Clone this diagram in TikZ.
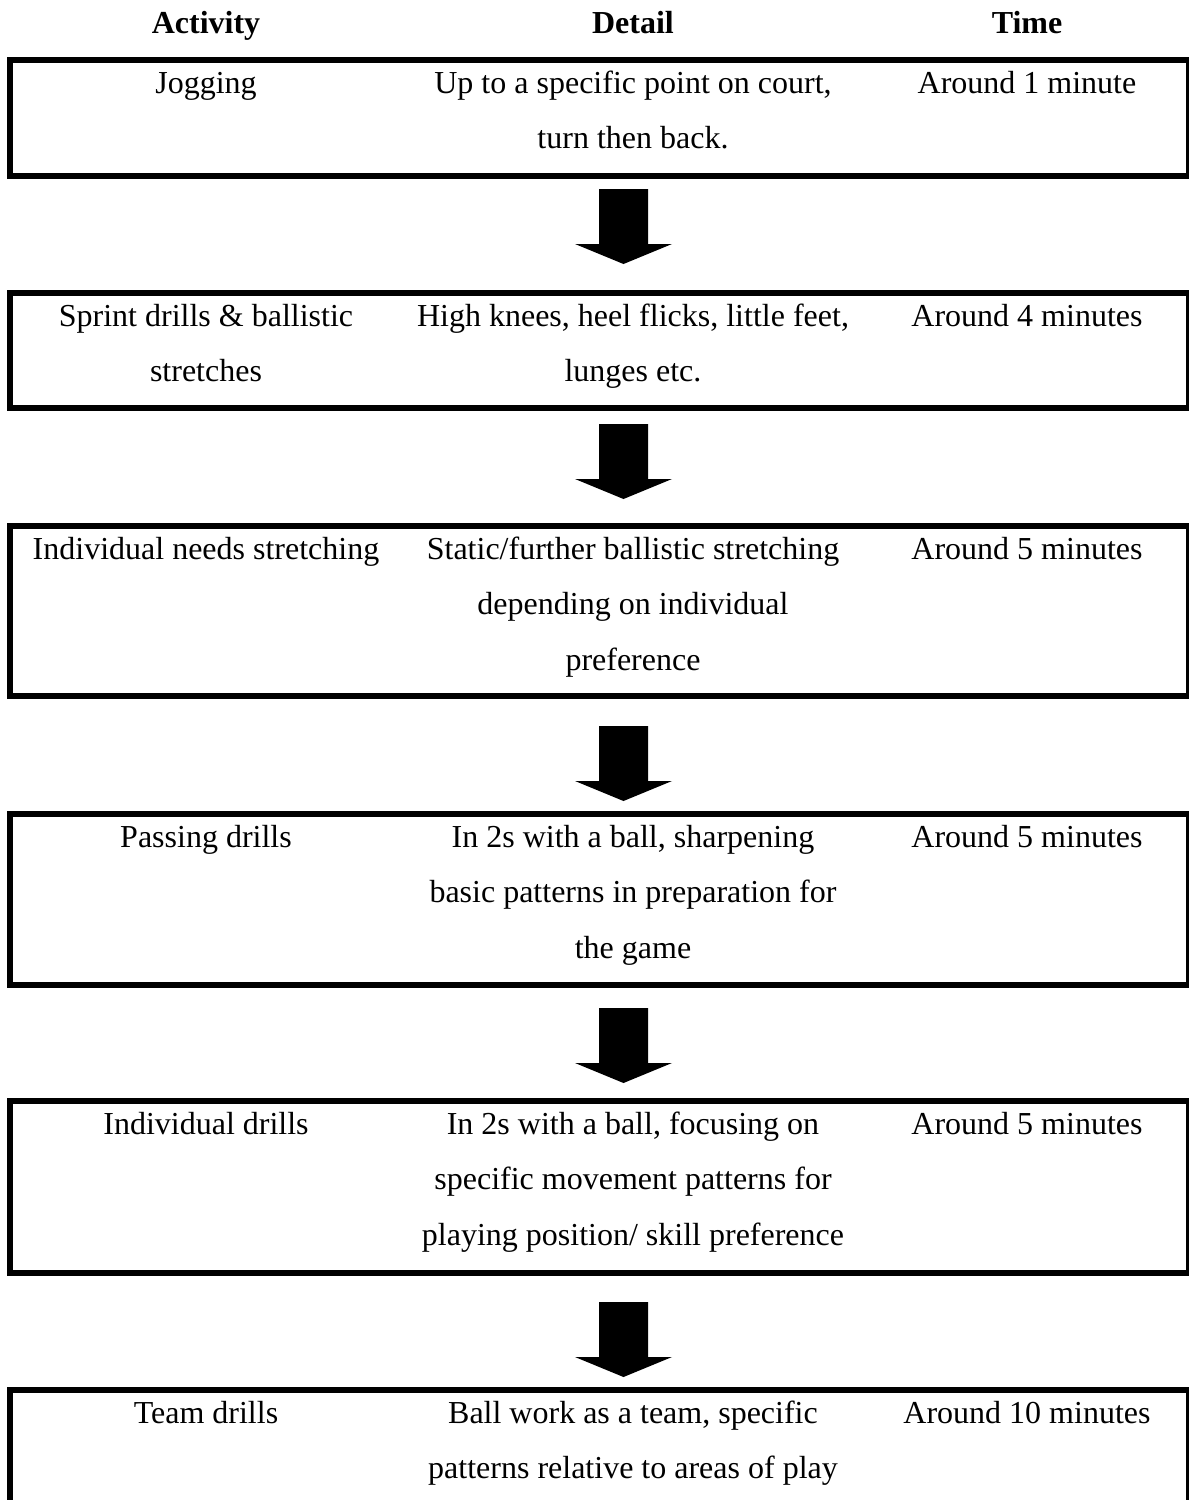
\documentclass[tikz,border=0pt]{standalone}
\usepackage{fontspec}
\setmainfont{Liberation Serif}
\begin{document}
\begin{tikzpicture}[x=1pt,y=-1pt]
\tikzset{
  txt/.style={anchor=base, align=center, inner sep=0pt, font=\fontsize{32}{55.5}\selectfont},
  hdr/.style={anchor=base, inner sep=0pt, font=\fontsize{32}{55.5}\selectfont\bfseries},
  rowbox/.style={draw, line width=6pt, inner sep=0pt, outer sep=0pt, anchor=north west, minimum width=1179pt},
  blockarrow/.style={fill=black},
}
\useasboundingbox (0,0) rectangle (1189,1500);
\clip (0,0) rectangle (1189,1500);
% headers
\node[hdr] (hA) at (206,33) {Activity};
\node[hdr] (hD) at (633,33) {Detail};
\node[hdr] (hT) at (1027,33) {Time};
% boxes
\node[rowbox, minimum height=116pt] (b1) at (10,60) {};
\node[rowbox, minimum height=115pt] (b2) at (10,293) {};
\node[rowbox, minimum height=170pt] (b3) at (10,526) {};
\node[rowbox, minimum height=171pt] (b4) at (10,814) {};
\node[rowbox, minimum height=172pt] (b5) at (10,1101) {};
\node[rowbox, minimum height=170pt] (b6) at (10,1390) {};
% (anchor=base of a multi-line node is the baseline of its last line)
% row 1
\node[txt] (a1) at (206,93) {Jogging};
\node[txt] (d1) at (633,148.5) {Up to a specific point on court,\\turn then back.};
\node[txt] (t1) at (1027,93) {Around 1 minute};
% row 2
\node[txt] (a2) at (206,381.5) {Sprint drills \& ballistic\\stretches};
\node[txt] (d2) at (633,381.5) {High knees, heel flicks, little feet,\\lunges etc.};
\node[txt] (t2) at (1027,326) {Around 4 minutes};
% row 3
\node[txt] (a3) at (206,559) {Individual needs stretching};
\node[txt] (d3) at (633,670) {Static/further ballistic stretching\\depending on individual\\preference};
\node[txt] (t3) at (1027,559) {Around 5 minutes};
% row 4
\node[txt] (a4) at (206,847) {Passing drills};
\node[txt] (d4) at (633,958) {In 2s with a ball, sharpening\\basic patterns in preparation for\\the game};
\node[txt] (t4) at (1027,847) {Around 5 minutes};
% row 5
\node[txt] (a5) at (206,1134) {Individual drills};
\node[txt] (d5) at (633,1245) {In 2s with a ball, focusing on\\specific movement patterns for\\playing position/ skill preference};
\node[txt] (t5) at (1027,1134) {Around 5 minutes};
% row 6
\node[txt] (a6) at (206,1423) {Team drills};
\node[txt] (d6) at (633,1478.5) {Ball work as a team, specific\\patterns relative to areas of play};
\node[txt] (t6) at (1027,1423) {Around 10 minutes};
% block arrows
\foreach \t in {189,424,726,1008,1302} {
  \fill[blockarrow] (599,\t) -- (648,\t) -- (648,\t+55) -- (672,\t+55)
    -- (623.5,\t+75) -- (575,\t+55) -- (599,\t+55) -- cycle;
}
\end{tikzpicture}
\end{document}
